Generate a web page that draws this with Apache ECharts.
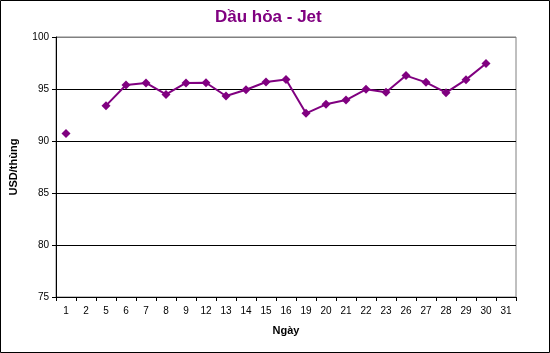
<!DOCTYPE html>
<html><head><meta charset="utf-8">
<script src="https://cdn.jsdelivr.net/npm/echarts@6/dist/echarts.min.js"></script>
<style>html,body{margin:0;padding:0;background:#fff}#c{width:550px;height:353px}</style>
</head><body><div id="c"></div>
<script>
const days = ['1','2','5','6','7','8','9','12','13','14','15','16','19','20','21','22','23','26','27','28','29','30','31'];
const prices = [90.73, null, 93.4, 95.38, 95.58, 94.48, 95.58, 95.6, 94.33, 94.93, 95.67, 95.92, 92.66, 93.53, 93.94, 94.97, 94.68, 96.29, 95.64, 94.65, 95.9, 97.46, null];
const yTicks = [75, 80, 85, 90, 95, 100];

const chart = echarts.init(document.getElementById('c'), null, {renderer: 'canvas'});
const font = 'Liberation Sans, Arial, sans-serif';
chart.setOption({
  animation: false,
  backgroundColor: '#fff',
  graphic: [
    {type: 'rect', shape: {x: 0.5, y: 0.5, width: 549, height: 352}, style: {fill: 'none', stroke: '#000', lineWidth: 1}, z: 100},
    {type: 'line', shape: {x1: 57, y1: 37.5, x2: 516, y2: 37.5}, style: {stroke: '#808080', lineWidth: 1}, z: 100}
  ],
  title: {text: 'Dầu hỏa - Jet', left: 210, top: 4,
    textStyle: {color: '#800080', fontSize: 17, fontWeight: 'bold', fontFamily: font}},
  grid: {left: 56, right: 34, top: 37, bottom: 56, show: true, borderColor: '#808080', borderWidth: 1,
    containLabel: false, outerBoundsMode: 'none'},
  xAxis: {type: 'category', data: days, boundaryGap: true,
    name: 'Ngày', nameLocation: 'middle', nameGap: 28,
    nameTextStyle: {fontWeight: 'bold', fontSize: 11, fontFamily: font, color: '#000'},
    axisLine: {lineStyle: {color: '#000'}},
    axisTick: {show: true, alignWithLabel: false, length: 4, lineStyle: {color: '#000'}},
    axisLabel: {color: '#000', fontSize: 10, fontFamily: font, margin: 9, interval: 0}},
  yAxis: {type: 'value', min: yTicks[0], max: yTicks[yTicks.length-1], interval: 5,
    name: 'USD/thùng', nameLocation: 'middle', nameGap: 37, nameRotate: 90,
    nameTextStyle: {fontWeight: 'bold', fontSize: 11, fontFamily: font, color: '#000'},
    axisLine: {show: true, lineStyle: {color: '#000'}},
    axisTick: {show: true, length: 4, lineStyle: {color: '#000'}},
    axisLabel: {color: '#000', fontSize: 10, fontFamily: font, margin: 7},
    splitLine: {show: true, lineStyle: {color: '#000', width: 1}}},
  series: [{type: 'line', data: prices, connectNulls: false,
    symbol: 'diamond', symbolSize: 9, showAllSymbol: true,
    lineStyle: {color: '#800080', width: 2},
    itemStyle: {color: '#800080'}}]
});
</script></body></html>
